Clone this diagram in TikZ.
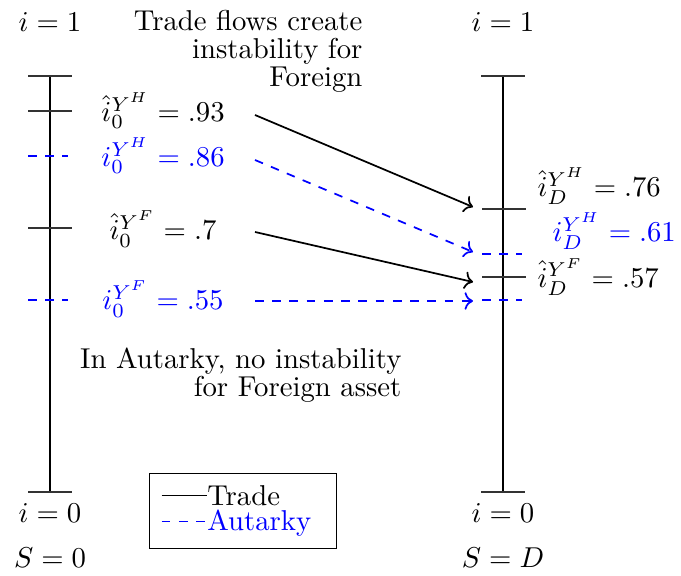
\documentclass[tikz,border=0pt]{standalone}
\usetikzlibrary{arrows.meta, positioning}
\definecolor{autblue}{RGB}{0,0,255}
\tikzset{
  axisline/.style={draw=black, thick},
  tradetick/.style={draw=black!80, semithick},
  auttick/.style={draw=autblue, dashed, semithick},
  tradeflow/.style={->, semithick, draw=black},
  autflow/.style={->, semithick, dashed, draw=autblue},
  vallab/.style={anchor=base, inner sep=0pt},
  endlab/.style={anchor=base, inner sep=0pt},
  notetext/.style={align=right, inner sep=0pt, font=\fontsize{10}{9.8}\selectfont},
  legendbox/.style={draw=black, inner sep=4pt, text width=57pt, align=left,
                    font=\fontsize{10}{9}\selectfont},
}
\newcommand{\legline}[1]{\tikz[baseline=-3.2pt]\draw[#1] (0,0) -- (15.7pt,0);}

\begin{document}
\begin{tikzpicture}[x=0.348pt, y=-0.348pt]
  \useasboundingbox (0,0) rectangle (681,576);

  % --- Axes (S = 0 and S = D) ---
  \foreach \x/\n/\s in {50/L/0, 503/R/D}{
    \draw[axisline] (\x,76) -- (\x,492);
    \draw[tradetick] (\x-22,76) -- (\x+22,76);
    \draw[tradetick] (\x-22,492) -- (\x+22,492);
    \node[endlab] (top\n) at (\x,31.7)  {$i = 1$};
    \node[endlab] (bot\n) at (\x,522.7) {$i = 0$};
    \node[endlab] (lev\n) at (\x,567.7) {$S = \s$};
  }

  % --- Thresholds at S = 0 ---
  \draw[tradetick] (28,111) -- (72,111);
  \draw[auttick]   (28,156) -- (68,156);
  \draw[tradetick] (28,228) -- (72,228);
  \draw[auttick]   (28,300) -- (68,300);

  \node[vallab] (hH0) at (163,121.7) {$\hat{i}_0^{Y^H} = .93$};
  \node[vallab, text=autblue] (aH0) at (163,166.7) {$i_0^{Y^H} = .86$};
  \node[vallab] (hF0) at (163,240) {$\hat{i}_0^{Y^F} = .7$};
  \node[vallab, text=autblue] (aF0) at (163,310) {$i_0^{Y^F} = .55$};

  % --- Thresholds at S = D ---
  \draw[tradetick] (482,209) -- (526,209);
  \draw[auttick]   (482,254) -- (522,254);
  \draw[tradetick] (482,277) -- (526,277);
  \draw[auttick]   (482,300) -- (522,300);

  \node[vallab, anchor=base west] (hHD) at (537,196.7) {$\hat{i}_D^{Y^H} = .76$};
  \node[vallab, anchor=base west, text=autblue] (aHD) at (552,241.7) {$i_D^{Y^H} = .61$};
  \node[vallab, anchor=base west] (hFD) at (537,287.3) {$\hat{i}_D^{Y^F} = .57$};

  % --- Flows ---
  \coordinate (sH0) at (255,115);  \coordinate (eHD) at (473,207);
  \coordinate (sAH) at (255,160);  \coordinate (eAH) at (473,252);
  \coordinate (sF0) at (255,232);  \coordinate (eFD) at (473,282);
  \coordinate (sAF) at (255,301);  \coordinate (eAF) at (473,301);
  \draw[tradeflow] (sH0) -- (eHD);
  \draw[autflow]   (sAH) -- (eAH);
  \draw[tradeflow] (sF0) -- (eFD);
  \draw[autflow]   (sAF) -- (eAF);

  % --- Notes ---
  \node[notetext, anchor=base east] (tradenote) at (363,87)
    {Trade flows create\\instability for\\Foreign};
  \node[notetext, anchor=base east] (autnote) at (402,396.7)
    {In Autarky, no instability\\for Foreign asset};

  % --- Legend ---
  \node[legendbox] (legend) at (243,511)
    {\legline{black}Trade\\\color{autblue}\legline{autblue, dashed}Autarky};
\end{tikzpicture}
\end{document}
